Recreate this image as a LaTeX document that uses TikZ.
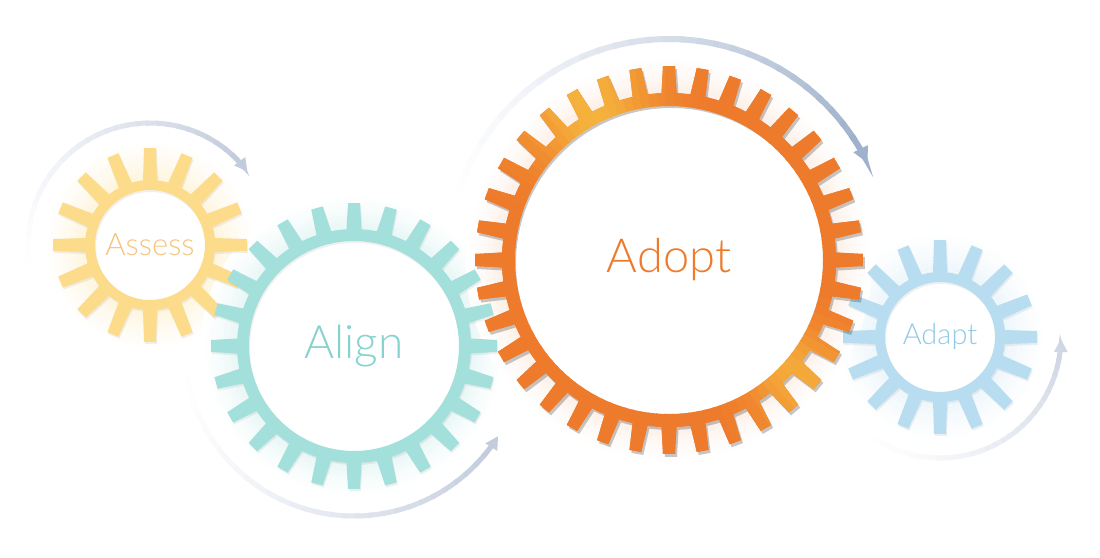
\documentclass[tikz,border=0pt]{standalone}
\usepackage{fontspec}
\IfFontExistsTF{Lato Light}{\setmainfont{Lato Light}}{\setmainfont{Liberation Sans}}
\usetikzlibrary{arrows.meta}
\definecolor{assessC}{HTML}{FCDC8A}
\definecolor{assessT}{HTML}{F6C47C}
\definecolor{alignC}{HTML}{A3DFDB}
\definecolor{alignT}{HTML}{86D2CE}
\definecolor{adoptC}{HTML}{EE7A2B}
\definecolor{adoptY}{HTML}{F5B23C}
\definecolor{adoptT}{HTML}{EE7A2B}
\definecolor{adaptC}{HTML}{B8DDF0}
\definecolor{adaptT}{HTML}{92C9E6}
\definecolor{arrowA}{HTML}{C3CCDD}
\definecolor{arrowC}{HTML}{D0D7E4}
\definecolor{arrowB}{HTML}{9FB1CC}

\newcommand\gearset[5]{%
 \def\gR{#1}\def\gT{#2}%
 \pgfmathsetmacro\gp{360/#3}%
 \pgfmathtruncatemacro\gNm{#3-1}%
 \pgfmathsetmacro\gb{(#4/2)/#1*180/pi}%
 \pgfmathsetmacro\gt{(#5/2)/#2*180/pi}}
\newcommand\gearfill[2]{\fill[#1] ({90-\gb}:\gR) \foreach \k in {0,...,\gNm}{ -- ({90+\k*\gp-\gb}:\gR) -- ({90+\k*\gp-\gt}:\gT) -- ({90+\k*\gp+\gt}:\gT) -- ({90+\k*\gp+\gb}:\gR) arc[start angle={90+\k*\gp+\gb}, end angle={90+(\k+1)*\gp-\gb}, radius=\gR]} -- cycle #2;}
\newcommand\gearclip{\clip ({90-\gb}:\gR) \foreach \k in {0,...,\gNm}{ -- ({90+\k*\gp-\gb}:\gR) -- ({90+\k*\gp-\gt}:\gT) -- ({90+\k*\gp+\gt}:\gT) -- ({90+\k*\gp+\gb}:\gR) arc[start angle={90+\k*\gp+\gb}, end angle={90+(\k+1)*\gp-\gb}, radius=\gR]} -- cycle;}
% glow ring: #1 inner radius, #2 outer radius, #3 colour, #4 strength
\newcommand\glowring[4]{\foreach \i in {0,...,14}{%
  \pgfmathsetmacro\rr{#1+\i*(#2-#1)/14}%
  \pgfmathsetmacro\pp{#4*(1-\i/14)^1.3}%
  \draw[line width=2.6pt, #3!\pp!white] (0,0) circle[radius=\rr];}}
% fading arrow: #1 r, #2 start, #3 end, #4 colour, #5 width, #6 head deg, #7 head length, #8 head width
\newcommand\fadearrow[8]{%
 \pgfmathsetmacro\ee{#3-sign(#3-#2)*#6}%
 \foreach \i in {0,...,29}{%
   \pgfmathsetmacro\aa{#2+(\ee-#2)*\i/30}%
   \pgfmathsetmacro\ab{#2+(\ee-#2)*(\i+1.3)/30}%
   \pgfmathsetmacro\pp{100*((\i+1)/30)^1.4}%
   \draw[line width=#5, #4!\pp!white] (\aa:#1) arc[start angle=\aa, end angle=\ab, radius=#1];}%
 \draw[line width=#5, #4, -{Triangle[length=#7,width=#8]}] (\ee:#1) arc[start angle=\ee, end angle=#3, radius=#1];}

\begin{document}
\begin{tikzpicture}[x=1pt,y=1pt]
\useasboundingbox (0,0) rectangle (1100,557);
\fill[white] (0,0) rectangle (1100,557);

% glows
\begin{scope}[shift={(150,312)}] \glowring{65}{106}{assessC}{32} \end{scope}
\begin{scope}[shift={(354,211)}] \glowring{117}{152}{alignC}{26} \end{scope}
\begin{scope}[shift={(940,220)}] \glowring{65}{106}{adaptC}{28} \end{scope}
\begin{scope}[shift={(669,297)}] \glowring{167}{202}{adoptC}{12} \end{scope}

% arrows
\begin{scope}[shift={(150,312)}] \fadearrow{122}{190}{37}{arrowA}{5pt}{6}{13pt}{13pt} \end{scope}
\begin{scope}[shift={(354,211)}] \fadearrow{170}{190}{328}{arrowA}{5pt}{4}{13pt}{13pt} \end{scope}
\begin{scope}[shift={(669,297)}] \fadearrow{221}{162}{26}{arrowB}{6pt}{4}{16pt}{15pt} \end{scope}
\begin{scope}[shift={(940,220)}] \fadearrow{121}{232}{359}{arrowC}{5pt}{6}{13pt}{13pt} \end{scope}

% Assess
\gearset{65}{97}{16}{14}{12}
\begin{scope}[shift={(150,312)}]
 \begin{scope}[shift={(1,-2)}]\gearfill{black, opacity=0.06, even odd rule}{(0,0) circle[radius=55]}\end{scope}
 \gearfill{assessC, even odd rule}{(0,0) circle[radius=55]}
 \node[font=\fontsize{31}{33}\selectfont, text=assessT] (assess) at (0,0) {Assess};
\end{scope}

% Align
\gearset{117}{143}{24}{15}{12}
\begin{scope}[shift={(354,211)}]
 \begin{scope}[shift={(1,-2)}]\gearfill{black, opacity=0.06, even odd rule}{(0,0) circle[radius=105]}\end{scope}
 \gearfill{alignC, even odd rule}{(0,0) circle[radius=105]}
 \node[font=\fontsize{46}{50}\selectfont, text=alignT] (align) at (0,0) {Align};
\end{scope}

% Adapt
\gearset{65}{97}{16}{14}{12}
\begin{scope}[shift={(940,220)}]
 \begin{scope}[shift={(1,-2)}]\gearfill{black, opacity=0.06, even odd rule}{(0,0) circle[radius=55]}\end{scope}
 \gearfill{adaptC, even odd rule}{(0,0) circle[radius=55]}
 \node[font=\fontsize{29}{31}\selectfont, text=adaptT] (adapt) at (0,0) {Adapt};
\end{scope}

% Adopt
\gearset{167}{194}{36}{15}{12}
\begin{scope}[shift={(669,297)}]
 \begin{scope}[shift={(2,-3)}]\gearfill{black, opacity=0.22, even odd rule}{(0,0) circle[radius=155]}\end{scope}
 \gearfill{adoptC, even odd rule}{(0,0) circle[radius=155]}
 \begin{scope}
  \gearclip
  \foreach \a in {0,3,...,357}{%
    \pgfmathsetmacro\w{100*max(exp(-min(9,((\a-118)/22)^2)), 0.85*exp(-min(9,((\a-318)/16)^2)))}%
    \fill[adoptY!\w!adoptC] ({\a-1.8}:154) arc[start angle={\a-1.8}, end angle={\a+1.8}, radius=154] -- ({\a+1.8}:200) arc[start angle={\a+1.8}, end angle={\a-1.8}, radius=200] -- cycle;}
 \end{scope}
 \node[font=\fontsize{47}{51}\selectfont, text=adoptT] (adopt) at (0,0) {Adopt};
\end{scope}
\end{tikzpicture}
\end{document}
